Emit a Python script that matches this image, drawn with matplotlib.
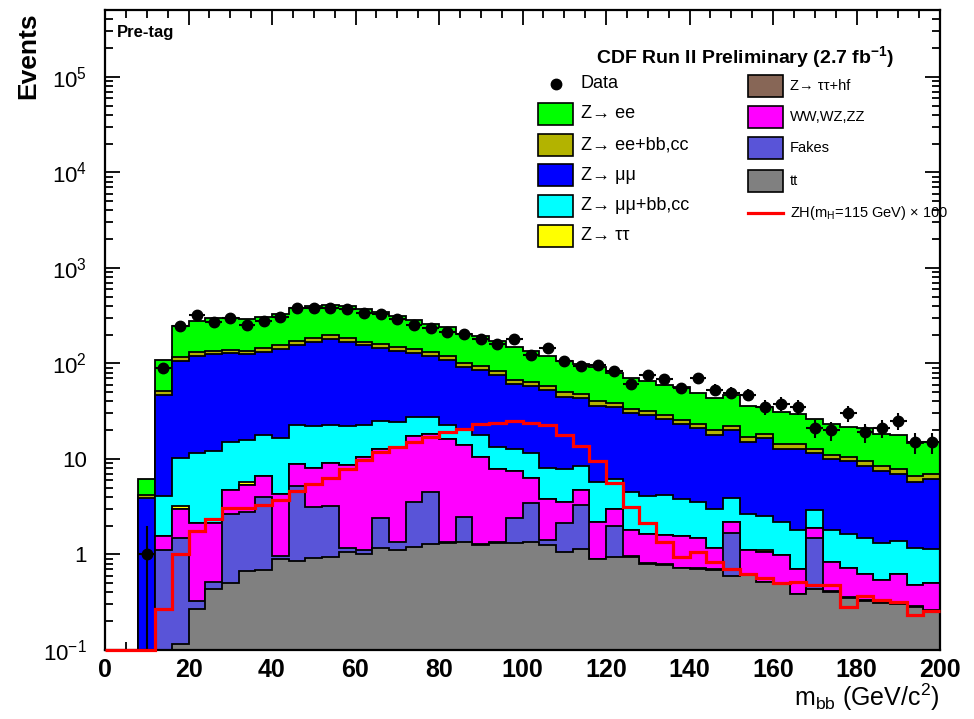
import matplotlib
matplotlib.use('Agg')
import matplotlib.pyplot as plt
import numpy as np
from matplotlib.patches import Rectangle
from matplotlib.lines import Line2D
from matplotlib.ticker import FixedLocator, FixedFormatter, MultipleLocator, LogLocator, NullFormatter

plt.rcParams['font.family'] = ['Liberation Sans', 'DejaVu Sans']
plt.rcParams['mathtext.fontset'] = 'custom'
plt.rcParams['mathtext.rm'] = 'Liberation Sans'
plt.rcParams['mathtext.bf'] = 'Liberation Sans:bold'
plt.rcParams['mathtext.it'] = 'Liberation Sans:italic'

# m_bb bins, 4 GeV wide
edges = np.arange(0, 204, 4)

data = [0, 0, 1, 90, 248, 322, 272, 299, 253, 275,
        309, 378, 378, 384, 372, 340, 327, 290, 253, 234,
        212, 204, 178, 158, 181, 121, 145, 106, 94, 97,
        83, 61, 75, 68, 55, 70, 53, 49, 47, 35,
        38, 35, 21, 20, 30, 19, 21, 25, 15, 15]

# stacked (cumulative) tops, top layer first
top_zee = [0, 0, 6.1, 109, 249, 279, 297, 297, 288, 305,
           327, 378, 397, 410, 397, 372, 344, 317, 286, 259,
           239, 204, 193, 173, 150, 136, 119, 107, 99, 91,
           80, 70, 65, 59, 56, 49, 43.6, 46.2, 35.5, 35,
           31, 29.2, 25.9, 23, 21.6, 21.2, 18.4, 17.7, 14.8, 15]

top_zeehf = [0, 0, 4.17, 50.9, 116, 131, 136, 139, 136, 145,
             154, 173, 184, 196, 184, 169, 158, 147, 142, 131,
             119, 101, 94, 83, 67, 64, 58, 50, 48, 40,
             38.5, 33.6, 31.4, 28.6, 25.6, 23.4, 20.2, 22.2, 16.9, 18.4,
             14.2, 14.2, 12.8, 11.1, 10.6, 9.5, 8.4, 7.8, 6.6, 6.9]

top_zmm = [0, 0, 3.9, 47, 106, 119, 125, 127, 124, 132,
           140, 157, 167, 178, 167, 154, 144, 134, 129, 119,
           108, 92, 85, 75, 61, 58, 52.5, 45, 43.5, 36,
           35, 30.5, 28.5, 26, 23, 21, 18, 20, 15.2, 16.5,
           12.7, 12.7, 11.4, 9.9, 9.4, 8.4, 7.4, 6.9, 5.8, 6.1]

top_zmmhf = [0, 0, 0, 4.1, 10.3, 11.5, 12.2, 15.2, 15.8, 17.7,
             16.7, 22.5, 21.9, 22.8, 21.9, 22.8, 24.7, 24.4, 27.5, 27.5,
             22.6, 20.3, 17.7, 13.3, 12.8, 11.4, 8.1, 7.8, 8.4, 5.75,
             6.1, 4.5, 4.1, 4.17, 3.85, 3.5, 2.97, 3.9, 2.62, 2.54,
             2.19, 1.79, 2.95, 1.79, 1.63, 1.47, 1.33, 1.38, 1.17, 1.13]

# Z->tautau contributions are tiny, kept as own values on top of dibosons
ztt = [0, 0, 0, 0, 0.2, 0, 0, 0, 0.45, 0,
       0, 0, 0, 0, 0, 0, 0, 0, 0, 0,
       0, 0, 0, 0, 0, 0, 0, 0, 0, 0,
       0, 0, 0, 0, 0, 0, 0, 0, 0, 0.05,
       0, 0, 0, 0, 0, 0, 0, 0, 0, 0]
ztt_hf = [0] * 50

top_vv = [0, 0, 0, 1.57, 3.0, 2.16, 2.16, 4.7, 5.3, 6.6,
          4.33, 8.9, 8.1, 9.1, 8.7, 10.6, 12.8, 13.0, 17.4, 18.4,
          16.0, 13.9, 10.5, 7.8, 7.4, 6.3, 3.78, 3.55, 4.7, 2.19,
          3.02, 1.79, 1.62, 1.59, 1.55, 1.47, 1.17, 2.19, 1.11, 1.07,
          0.98, 0.70, 1.9, 0.825, 0.714, 0.618, 0.54, 0.62, 0.478, 0.497]

top_fakes = [0, 0, 0, 1.11, 1.49, 0.325, 0.518, 2.68, 2.79, 4.0,
             0.96, 5.2, 3.15, 3.2, 1.17, 1.11, 2.42, 1.36, 3.5, 4.5,
             1.36, 2.47, 1.3, 1.36, 2.38, 3.47, 1.41, 2.11, 3.27, 0.9,
             1.98, 0.96, 0.82, 0.79, 0.73, 0.72, 0.70, 1.66, 0.62, 0.52,
             0.5, 0.39, 1.49, 0.41, 0.355, 0.333, 0.315, 0.307, 0.29, 0.262]

top_tt = [0, 0, 0, 0.05, 0.115, 0.266, 0.43, 0.497, 0.67, 0.685,
          0.886, 0.85, 0.91, 0.945, 1.07, 1.02, 1.16, 1.11, 1.2, 1.3,
          1.33, 1.36, 1.27, 1.33, 1.33, 1.36, 1.25, 1.07, 1.14, 0.89,
          0.945, 0.945, 0.8, 0.77, 0.714, 0.70, 0.685, 0.6, 0.61, 0.51,
          0.486, 0.382, 0.434, 0.4, 0.347, 0.325, 0.308, 0.3, 0.284, 0.256]

zh100 = [0, 0, 0, 0.27, 1.0, 1.77, 2.34, 3.07, 3.1, 3.27,
         3.69, 4.6, 5.4, 6.3, 7.8, 9.7, 11.8, 13.3, 15, 16.9,
         19.1, 20.7, 23.4, 24, 24.9, 24, 22.5, 18, 13.5, 9.4,
         5.6, 3.15, 2.11, 1.36, 0.945, 1.07, 0.84, 0.70, 0.618, 0.57,
         0.497, 0.51, 0.478, 0.478, 0.284, 0.367, 0.33, 0.32, 0.23, 0.258]

W, H = 974, 719
YMIN, YMAX = 0.1, 5e5
FLOOR = 1e-3


def fx(x):
    return x / W


def fy(y):
    return 1 - y / H


fig = plt.figure(figsize=(W / 100, H / 100), dpi=100)
ax = fig.add_axes([fx(105), fy(650), fx(940) - fx(105), fy(10) - fy(650)])
ax.set_yscale('log')

top_ztthf = np.array(top_vv) + np.array(ztt_hf)
top_ztt = top_ztthf + np.array(ztt)

layers = [
    (top_zee, '#00ff00'),
    (top_zeehf, '#b3b300'),
    (top_zmm, '#0000ff'),
    (top_zmmhf, '#00ffff'),
    (top_ztt, '#ffff00'),
    (top_ztthf, '#876656'),
    (top_vv, '#ff00ff'),
    (top_fakes, '#5954d8'),
    (top_tt, '#808080'),
]
for top, col in layers:
    vals = np.maximum(np.asarray(top, dtype=float), FLOOR)
    ax.stairs(vals, edges, baseline=FLOOR, fill=True, facecolor=col,
              edgecolor='none', zorder=2)
    ax.stairs(vals, edges, baseline=None, color='black', lw=1.3, zorder=2)

# signal x100, empty bins sit on the lower frame edge
ax.stairs(np.clip(zh100, YMIN, None), edges, baseline=None,
          color='red', lw=2.3, zorder=6, clip_on=False)

d = np.asarray(data, dtype=float)
centers = 0.5 * (edges[:-1] + edges[1:])
m = d > 0
ax.errorbar(centers[m], d[m], yerr=np.sqrt(d[m]), xerr=2, fmt='o',
            color='black', ms=7.5, elinewidth=1.5, capsize=0, zorder=4)

ax.set_xlim(0, 200)
ax.set_ylim(YMIN, YMAX)

ax.xaxis.set_major_locator(MultipleLocator(20))
ax.xaxis.set_minor_locator(MultipleLocator(5))
ymaj = [0.1, 1, 10, 100, 1e3, 1e4, 1e5]
ylab = [r'$\mathregular{10^{-1}}$', '1', '10', r'$\mathregular{10^{2}}$',
        r'$\mathregular{10^{3}}$', r'$\mathregular{10^{4}}$', r'$\mathregular{10^{5}}$']
ax.yaxis.set_major_locator(FixedLocator(ymaj))
ax.yaxis.set_major_formatter(FixedFormatter(ylab))
ax.yaxis.set_minor_locator(LogLocator(base=10, subs=np.arange(2, 10), numticks=20))
ax.yaxis.set_minor_formatter(NullFormatter())

ax.tick_params(which='both', direction='in', top=True, right=True, width=1.3)
ax.tick_params(which='major', length=11)
ax.tick_params(which='minor', length=6)
ax.tick_params(axis='x', which='major', labelsize=18, pad=6)
ax.tick_params(axis='y', which='major', labelsize=16, pad=13)
for lbl in ax.get_xticklabels():
    lbl.set_fontweight('bold')
for sp in ax.spines.values():
    sp.set_linewidth(1.6)
    sp.set_zorder(5)

fig.text(fx(28), fy(12), 'Events', rotation=90, ha='center', va='top',
         fontsize=19, fontweight='bold')
fig.text(fx(940), fy(697), r'm$_{\mathregular{bb}}$ (GeV/c$^{\mathregular{2}}$)',
         ha='right', va='center', fontsize=18)
fig.text(fx(117), fy(33), 'Pre-tag', ha='left', va='center', fontsize=12,
         fontweight='bold')
fig.text(fx(745), fy(57), r'CDF Run II Preliminary (2.7 fb$^{\mathbf{-1}}$)',
         ha='center', va='center', fontsize=14, fontweight='bold')

# legend, left column
left_rows = [
    ('Z\u2192 ee', '#00ff00', 114),
    ('Z\u2192 ee+bb,cc', '#b3b300', 145),
    ('Z\u2192 \u03bc\u03bc', '#0000ff', 175),
    ('Z\u2192 \u03bc\u03bc+bb,cc', '#00ffff', 206),
    ('Z\u2192 \u03c4\u03c4', '#ffff00', 236),
]
fig.add_artist(Line2D([fx(556)], [fy(84)], marker='o', ms=7.5, color='black',
                      transform=fig.transFigure))
fig.text(fx(581), fy(84), 'Data', ha='left', va='center', fontsize=13)
for label, col, yc in left_rows:
    fig.add_artist(Rectangle((fx(538), fy(yc + 11)), 35 / W, 22 / H,
                             facecolor=col, edgecolor='black', lw=1.2,
                             transform=fig.transFigure))
    fig.text(fx(581), fy(yc), label, ha='left', va='center', fontsize=13)

# legend, right column
right_rows = [
    ('Z\u2192 \u03c4\u03c4+hf', '#876656', 86),
    ('WW,WZ,ZZ', '#ff00ff', 117),
    ('Fakes', '#5954d8', 148),
    ('tt', '#808080', 181),
]
for label, col, yc in right_rows:
    fig.add_artist(Rectangle((fx(748), fy(yc + 11)), 35 / W, 22 / H,
                             facecolor=col, edgecolor='black', lw=1.2,
                             transform=fig.transFigure))
    fig.text(fx(790), fy(yc), label, ha='left', va='center', fontsize=10.5)
fig.add_artist(Line2D([fx(748), fx(783)], [fy(213), fy(213)], color='red',
                      lw=2.3, transform=fig.transFigure))
fig.text(fx(790), fy(213), 'ZH(m$_{\\mathregular{H}}$=115 GeV) \u00d7 100',
         ha='left', va='center', fontsize=10.5)

fig.savefig('out.png', dpi=100)
